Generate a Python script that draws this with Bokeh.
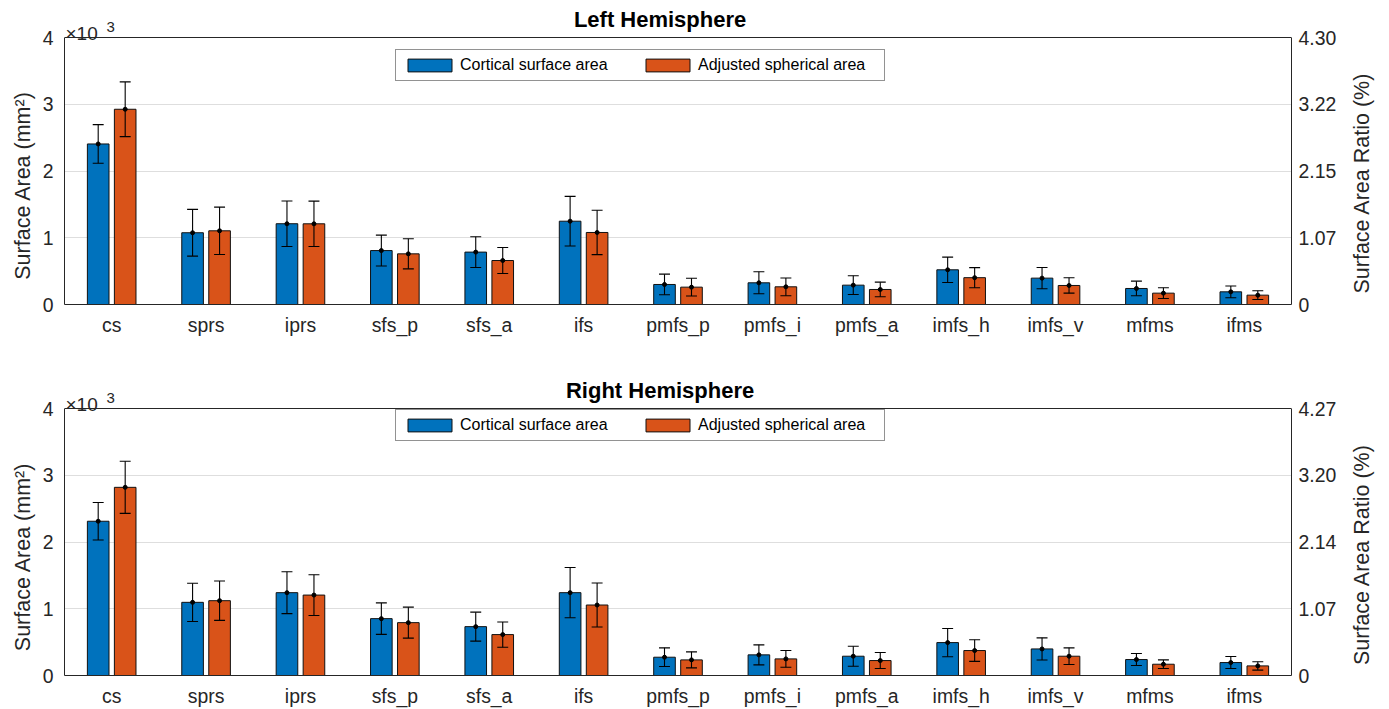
from bokeh.plotting import figure
from bokeh.models import Range1d, LinearAxis, FixedTicker, Label, Legend, LegendItem, ColumnDataSource, Span
from bokeh.layouts import column, row
from bokeh.embed import file_html
from bokeh.resources import INLINE
import numpy as np

categories = ["cs", "sprs", "iprs", "sfs_p", "sfs_a", "ifs", "pmfs_p", "pmfs_i",
              "pmfs_a", "imfs_h", "imfs_v", "mfms", "ifms"]

# Left hemisphere (mm^2)
lh_cortical = [2405, 1075, 1210, 808, 785, 1248, 300, 325, 290, 520, 395, 240, 190]
lh_cortical_err = [290, 350, 340, 232, 230, 372, 155, 165, 140, 190, 160, 110, 88]
lh_adjusted = [2925, 1104, 1209, 759, 659, 1079, 260, 265, 225, 402, 285, 170, 140]
lh_adjusted_err = [410, 355, 340, 225, 195, 332, 133, 133, 110, 150, 115, 80, 65]

# Right hemisphere (mm^2)
rh_cortical = [2311, 1096, 1241, 852, 732, 1241, 274, 309, 289, 493, 398, 239, 194]
rh_cortical_err = [280, 286, 314, 236, 217, 376, 140, 150, 150, 212, 166, 90, 90]
rh_adjusted = [2819, 1121, 1205, 792, 613, 1056, 234, 249, 224, 374, 289, 169, 144]
rh_adjusted_err = [390, 295, 305, 232, 189, 329, 120, 125, 120, 162, 125, 65, 63]

left_ticks = [0, 1000, 2000, 3000, 4000]
left_tick_labels = ["0", "1", "2", "3", "4"]
y_max = 4000
lh_ratio_max = 4.30
lh_ratio_labels = ["0", "1.07", "2.15", "3.22", "4.30"]
rh_ratio_max = 4.27
rh_ratio_labels = ["0", "1.07", "2.14", "3.20", "4.27"]

BLUE = "#0072BD"
ORANGE = "#D95319"
FONT = "Liberation Sans"
AX = "#262626"
BOX_H = 267  # pixel height of the 0..4000 box
NB = "\u00a0"


def make_panel(title, cort, cort_err, adj, adj_err, ratio_max, ratio_labels,
               frame_h, bottom_border, pad_left):
    ytop = y_max * frame_h / BOX_H
    p = figure(frame_width=1227, frame_height=frame_h, title=None,
               x_range=Range1d(0.5, 13.5), y_range=Range1d(0, ytop),
               output_backend="svg", toolbar_location=None,
               min_border_left=64, min_border_right=52,
               min_border_top=0, min_border_bottom=bottom_border)
    p.outline_line_color = None
    p.background_fill_color = "white"
    p.border_fill_color = "white"

    idx = np.arange(1, len(categories) + 1)
    off = 0.143
    bw = 0.229
    cap = 0.058

    series = [(cort, cort_err, BLUE, -off), (adj, adj_err, ORANGE, off)]
    renderers = []
    for vals, errs, col, o in series:
        v = np.array(vals, dtype=float)
        e = np.array(errs, dtype=float)
        xs = idx + o
        src = ColumnDataSource(dict(x=xs, top=v, lo=v - e, hi=v + e,
                                    xl=xs - cap, xr=xs + cap))
        r = p.vbar(x="x", top="top", width=bw, bottom=0, source=src,
                   fill_color=col, line_color="#111111", line_width=1)
        renderers.append(r)
        p.segment(x0="x", y0="lo", x1="x", y1="hi", source=src, line_color="black", line_width=1.1)
        p.segment(x0="xl", y0="hi", x1="xr", y1="hi", source=src, line_color="black", line_width=1.1)
        p.segment(x0="xl", y0="lo", x1="xr", y1="lo", source=src, line_color="black", line_width=1.1)
        p.scatter(x="x", y="top", source=src, size=4, color="black")

    # box top edge
    p.add_layout(Span(location=y_max, dimension="width", line_color=AX, line_width=1))

    # axes
    p.xaxis.ticker = FixedTicker(ticks=list(idx))
    p.xaxis.major_label_overrides = {int(i): c for i, c in zip(idx, categories)}
    p.yaxis.ticker = FixedTicker(ticks=left_ticks)
    p.yaxis.major_label_overrides = dict(zip(left_ticks, left_tick_labels))
    p.yaxis.axis_label = "Surface Area (mm²)" + NB * pad_left
    p.yaxis.bounds = (0, y_max)

    p.extra_y_ranges = {"ratio": Range1d(0, ratio_max * ytop / y_max)}
    rticks = [ratio_max * k / 4 for k in range(5)]
    rax = LinearAxis(y_range_name="ratio",
                     ticker=FixedTicker(ticks=rticks), bounds=(0, ratio_max),
                     major_label_overrides=dict(zip(rticks, ratio_labels)))
    p.add_layout(rax, "right")

    for ax in [p.xaxis[0], p.yaxis[0], rax]:
        ax.axis_line_color = AX
        ax.major_tick_in = 0
        ax.major_tick_out = 0
        ax.minor_tick_in = 0
        ax.minor_tick_out = 0
        ax.major_label_text_font = FONT
        ax.major_label_text_font_size = "19.4px"
        ax.major_label_text_color = AX
        ax.axis_label_text_font = FONT
        ax.axis_label_text_font_size = "21.5px"
        ax.axis_label_text_font_style = "normal"
        ax.axis_label_text_color = AX
    p.xaxis.major_label_standoff = 9
    p.yaxis.major_label_standoff = 11
    p.yaxis.axis_label_standoff = 5
    rax.major_label_standoff = 7

    p.xgrid.visible = False
    p.ygrid.ticker = FixedTicker(ticks=left_ticks[1:-1])
    p.ygrid.grid_line_color = "#dedede"
    p.ygrid.grid_line_width = 1

    legend = Legend(items=[LegendItem(label="Cortical surface area", renderers=[renderers[0]]),
                           LegendItem(label="Adjusted spherical area", renderers=[renderers[1]])],
                    orientation="horizontal", location=(331, frame_h - 37 - 14 - 30),
                    glyph_width=55, glyph_height=16, label_height=16, label_width=180,
                    label_standoff=3, spacing=0, padding=6, margin=0,
                    label_text_font=FONT, label_text_font_size="16px",
                    label_text_color="black",
                    border_line_color=AX, border_line_width=1,
                    background_fill_color="white", background_fill_alpha=1)
    p.add_layout(legend)

    p.add_layout(Label(x=6.81, y=y_max, y_offset=18.5, text=title, text_align="center",
                       text_baseline="middle", text_font=FONT, text_font_size="22px",
                       text_font_style="bold", text_color="black"))
    p.add_layout(Label(x=0.5, y=y_max, x_offset=1, y_offset=4, text="×10",
                       text_baseline="alphabetic", text_font=FONT, text_font_size="19px",
                       text_color=AX))
    p.add_layout(Label(x=0.5, y=y_max, x_offset=42, y_offset=11, text="3",
                       text_baseline="alphabetic", text_font=FONT, text_font_size="15px",
                       text_color=AX))
    return p


def make_side_label(total_h, center_from_top, text):
    q = figure(frame_width=40, frame_height=total_h, title=None,
               x_range=Range1d(0, 40), y_range=Range1d(0, total_h),
               x_axis_location=None, y_axis_location=None,
               output_backend="svg", toolbar_location=None,
               min_border_left=0, min_border_right=0, min_border_top=0, min_border_bottom=0)
    q.outline_line_color = None
    q.background_fill_color = "white"
    q.border_fill_color = "white"
    q.xgrid.visible = False
    q.ygrid.visible = False
    q.add_layout(Label(x=18.7, y=total_h - center_from_top, text=text, angle=np.pi / 2,
                       text_align="center", text_baseline="middle", text_font=FONT,
                       text_font_size="21.5px", text_color=AX))
    return q


p1 = make_panel("Left Hemisphere", lh_cortical, lh_cortical_err, lh_adjusted, lh_adjusted_err,
                lh_ratio_max, lh_ratio_labels, 304, 56, 11)
p2 = make_panel("Right Hemisphere", rh_cortical, rh_cortical_err, rh_adjusted, rh_adjusted_err,
                rh_ratio_max, rh_ratio_labels, 315, 33, 13)
q1 = make_side_label(360, 182.5, "Surface Area Ratio (%)")
q2 = make_side_label(348, 194, "Surface Area Ratio (%)")

layout = column(row(p1, q1, spacing=0), row(p2, q2, spacing=0), spacing=0)
open("out.html", "w").write(file_html(layout, INLINE))
